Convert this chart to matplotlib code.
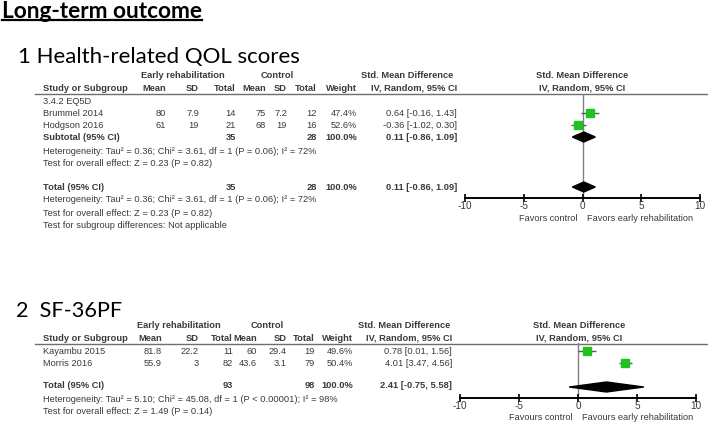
import matplotlib
matplotlib.use('Agg')
import matplotlib.pyplot as plt
from matplotlib.patches import Polygon

# ---------------- data ----------------
title_main = "Long-term outcome"
title_1 = "1 Health-related QOL scores"
title_2 = "2  SF-36PF"

# Section 1: Health-related QOL (EQ5D)
s1_subgroup = "3.4.2 EQ5D"
s1_studies = ["Brummel 2014", "Hodgson 2016"]
s1_e_mean = [80, 61]
s1_e_sd = [7.9, 19]
s1_e_n = [14, 21]
s1_c_mean = [75, 68]
s1_c_sd = [7.2, 19]
s1_c_n = [12, 16]
s1_weight = [47.4, 52.6]
s1_est = [0.64, -0.36]
s1_lo = [-0.16, -1.02]
s1_hi = [1.43, 0.30]
s1_pool = (0.11, -0.86, 1.09)
s1_tot_n = (35, 28)
s1_het = "Heterogeneity: Tau\u00b2 = 0.36; Chi\u00b2 = 3.61, df = 1 (P = 0.06); I\u00b2 = 72%"
s1_test = "Test for overall effect: Z = 0.23 (P = 0.82)"
s1_sub = "Test for subgroup differences: Not applicable"
s1_fav = ("Favors control", "Favors early rehabilitation")

# Section 2: SF-36PF
s2_studies = ["Kayambu 2015", "Morris 2016"]
s2_e_mean = [81.8, 55.9]
s2_e_sd = [22.2, 3]
s2_e_n = [11, 82]
s2_c_mean = [60, 43.6]
s2_c_sd = [29.4, 3.1]
s2_c_n = [19, 79]
s2_weight = [49.6, 50.4]
s2_est = [0.78, 4.01]
s2_lo = [0.01, 3.47]
s2_hi = [1.56, 4.56]
s2_pool = (2.41, -0.75, 5.58)
s2_tot_n = (93, 98)
s2_het = "Heterogeneity: Tau\u00b2 = 5.10; Chi\u00b2 = 45.08, df = 1 (P < 0.00001); I\u00b2 = 98%"
s2_test = "Test for overall effect: Z = 1.49 (P = 0.14)"
s2_fav = ("Favours control", "Favours early rehabilitation")

x_ticks = [-10, -5, 0, 5, 10]

# ---------------- style ----------------
W, H = 708, 422
TFONT = ['Liberation Sans', 'DejaVu Sans']
TXT = '#3a3a3a'
FS = 6.65
FAVFS = 6.6
TICKFS = 7.2
GREEN = '#1fc21f'

fig = plt.figure(figsize=(W / 100, H / 100), dpi=100)
bg = fig.add_axes([0, 0, 1, 1])
bg.set_xlim(0, W)
bg.set_ylim(H, 0)
bg.axis('off')


def t(x, y, s, ha='left', bold=False, size=FS, color=TXT):
    return bg.text(x, y, s, ha=ha, va='center', fontsize=size,
                   fontweight='bold' if bold else 'normal',
                   family=TFONT, color=color)


def g(v):
    return f"{v:g}"


def ci(e, l, h):
    return f"{e:.2f} [{l:.2f}, {h:.2f}]"


# titles
tm = bg.text(2, 17.5, title_main, ha='left', va='baseline', fontsize=16.3,
             fontweight='bold', family=['Lato', 'DejaVu Sans'], color='black')
bg.text(18, 63, title_1, ha='left', va='baseline', fontsize=16,
        family=['Lato', 'DejaVu Sans'], color='black')
bg.text(16, 317, title_2, ha='left', va='baseline', fontsize=15.6,
        family=['Lato', 'DejaVu Sans'], color='black')


def table(cols, ytop, studies, em, esd, en, cm, csd, cn, wt, est, lo, hi,
          rows, subgroup=None):
    y1, y2 = ytop, ytop + 13.5
    t(cols['er_c'], y1, "Early rehabilitation", ha='center', bold=True)
    t(cols['ct_c'], y1, "Control", ha='center', bold=True)
    t(cols['smd_c'], y1, "Std. Mean Difference", ha='center', bold=True)
    t(cols['plot_c'], y1, "Std. Mean Difference", ha='center', bold=True)
    t(43, y2, "Study or Subgroup", bold=True)
    for key, lab in [('em', 'Mean'), ('esd', 'SD'), ('en', 'Total'),
                     ('cm', 'Mean'), ('csd', 'SD'), ('cn', 'Total'),
                     ('w', 'Weight'), ('ci', 'IV, Random, 95% CI')]:
        t(cols[key], y2, lab, ha='right', bold=True)
    t(cols['plot_c'], y2, "IV, Random, 95% CI", ha='center', bold=True)
    bg.plot([35, W], [y2 + 5.5, y2 + 5.5], color='#6e6e6e', lw=1)
    if subgroup:
        t(43, rows['sub'], subgroup)
    for i, s in enumerate(studies):
        y = rows['st'][i]
        t(43, y, s)
        t(cols['em'], y, g(em[i]), ha='right')
        t(cols['esd'], y, g(esd[i]), ha='right')
        t(cols['en'], y, g(en[i]), ha='right')
        t(cols['cm'], y, g(cm[i]), ha='right')
        t(cols['csd'], y, g(csd[i]), ha='right')
        t(cols['cn'], y, g(cn[i]), ha='right')
        t(cols['w'], y, f"{wt[i]:.1f}%", ha='right')
        t(cols['ci'], y, ci(est[i], lo[i], hi[i]), ha='right')


def total_row(cols, y, label, totn, pool):
    t(43, y, label, bold=True)
    t(cols['en'], y, g(totn[0]), ha='right', bold=True)
    t(cols['cn'], y, g(totn[1]), ha='right', bold=True)
    t(cols['w'], y, "100.0%", ha='right', bold=True)
    t(cols['ci'], y, ci(*pool), ha='right', bold=True)


def forest(x0, x1, ytop, yaxis, est, lo, hi, wt, srows, pools, fav, favy):
    ax = fig.add_axes([x0 / W, 1 - yaxis / H, (x1 - x0) / W, (yaxis - ytop) / H])
    ax.set_xlim(-10, 10)
    ax.set_ylim(yaxis, ytop)
    ax.patch.set_alpha(0)
    for sp in ['top', 'left', 'right']:
        ax.spines[sp].set_visible(False)
    ax.spines['bottom'].set_linewidth(1.4)
    ax.set_yticks([])
    ax.set_xticks(x_ticks)
    ax.set_xticklabels([str(v) for v in x_ticks], family=TFONT, fontsize=TICKFS,
                       color=TXT)
    ax.tick_params(axis='x', direction='inout', length=6, width=1.2, pad=-0.5)
    ax.axvline(0, color='#808080', lw=1, zorder=1)
    for i in range(len(est)):
        y = srows[i]
        ax.hlines(y, lo[i], hi[i], color='#5a5a5a', lw=1, zorder=2)
        side = 8.5 * (wt[i] / 52.6) ** 0.5
        ax.plot(est[i], y, marker='s', ms=side * 0.72, color=GREEN,
                mec=GREEN, zorder=3)
    for (e, l, h), y in pools:
        ax.add_patch(Polygon([[l, y], [e, y - 5], [h, y], [e, y + 5]],
                             closed=True, color='black', zorder=3))
    xz = x0 + (x1 - x0) / 2
    t(xz - 5, favy, fav[0], ha='right', size=FAVFS)
    t(xz + 4.5, favy, fav[1], ha='left', size=FAVFS)
    return ax


# ---- section 1 ----
cols1 = dict(er_c=183, ct_c=277, smd_c=407, plot_c=582,
             em=166, esd=199, en=236, cm=266, csd=287, cn=317, w=357, ci=457)
rows1 = dict(sub=102, st=[114, 126])
table(cols1, 75, s1_studies, s1_e_mean, s1_e_sd, s1_e_n, s1_c_mean, s1_c_sd,
      s1_c_n, s1_weight, s1_est, s1_lo, s1_hi, rows1, subgroup=s1_subgroup)
total_row(cols1, 138, "Subtotal (95% CI)", s1_tot_n, s1_pool)
t(43, 151, s1_het)
t(43, 163, s1_test)
total_row(cols1, 187, "Total (95% CI)", s1_tot_n, s1_pool)
t(43, 200, s1_het)
t(43, 213, s1_test)
t(43, 226, s1_sub)
forest(465, 700, 94, 198, s1_est, s1_lo, s1_hi, s1_weight, [113, 125],
       [(s1_pool, 137), (s1_pool, 187)], s1_fav, 218.5)

# ---- section 2 ----
cols2 = dict(er_c=179, ct_c=267, smd_c=404, plot_c=579,
             em=162, esd=199, en=233, cm=257, csd=287, cn=315, w=353, ci=452)
rows2 = dict(st=[351, 363])
table(cols2, 325, s2_studies, s2_e_mean, s2_e_sd, s2_e_n, s2_c_mean, s2_c_sd,
      s2_c_n, s2_weight, s2_est, s2_lo, s2_hi, rows2)
total_row(cols2, 386, "Total (95% CI)", s2_tot_n, s2_pool)
t(43, 399, s2_het)
t(43, 411, s2_test)
forest(460, 696, 343, 398, s2_est, s2_lo, s2_hi, s2_weight, [351, 363],
       [(s2_pool, 387)], s2_fav, 417.5)

# underline of main title
fig.canvas.draw()
bb = tm.get_window_extent()
bg.plot([bb.x0, bb.x1], [20, 20], color='black', lw=1.6)

fig.savefig('out.png', dpi=100, facecolor='white')
